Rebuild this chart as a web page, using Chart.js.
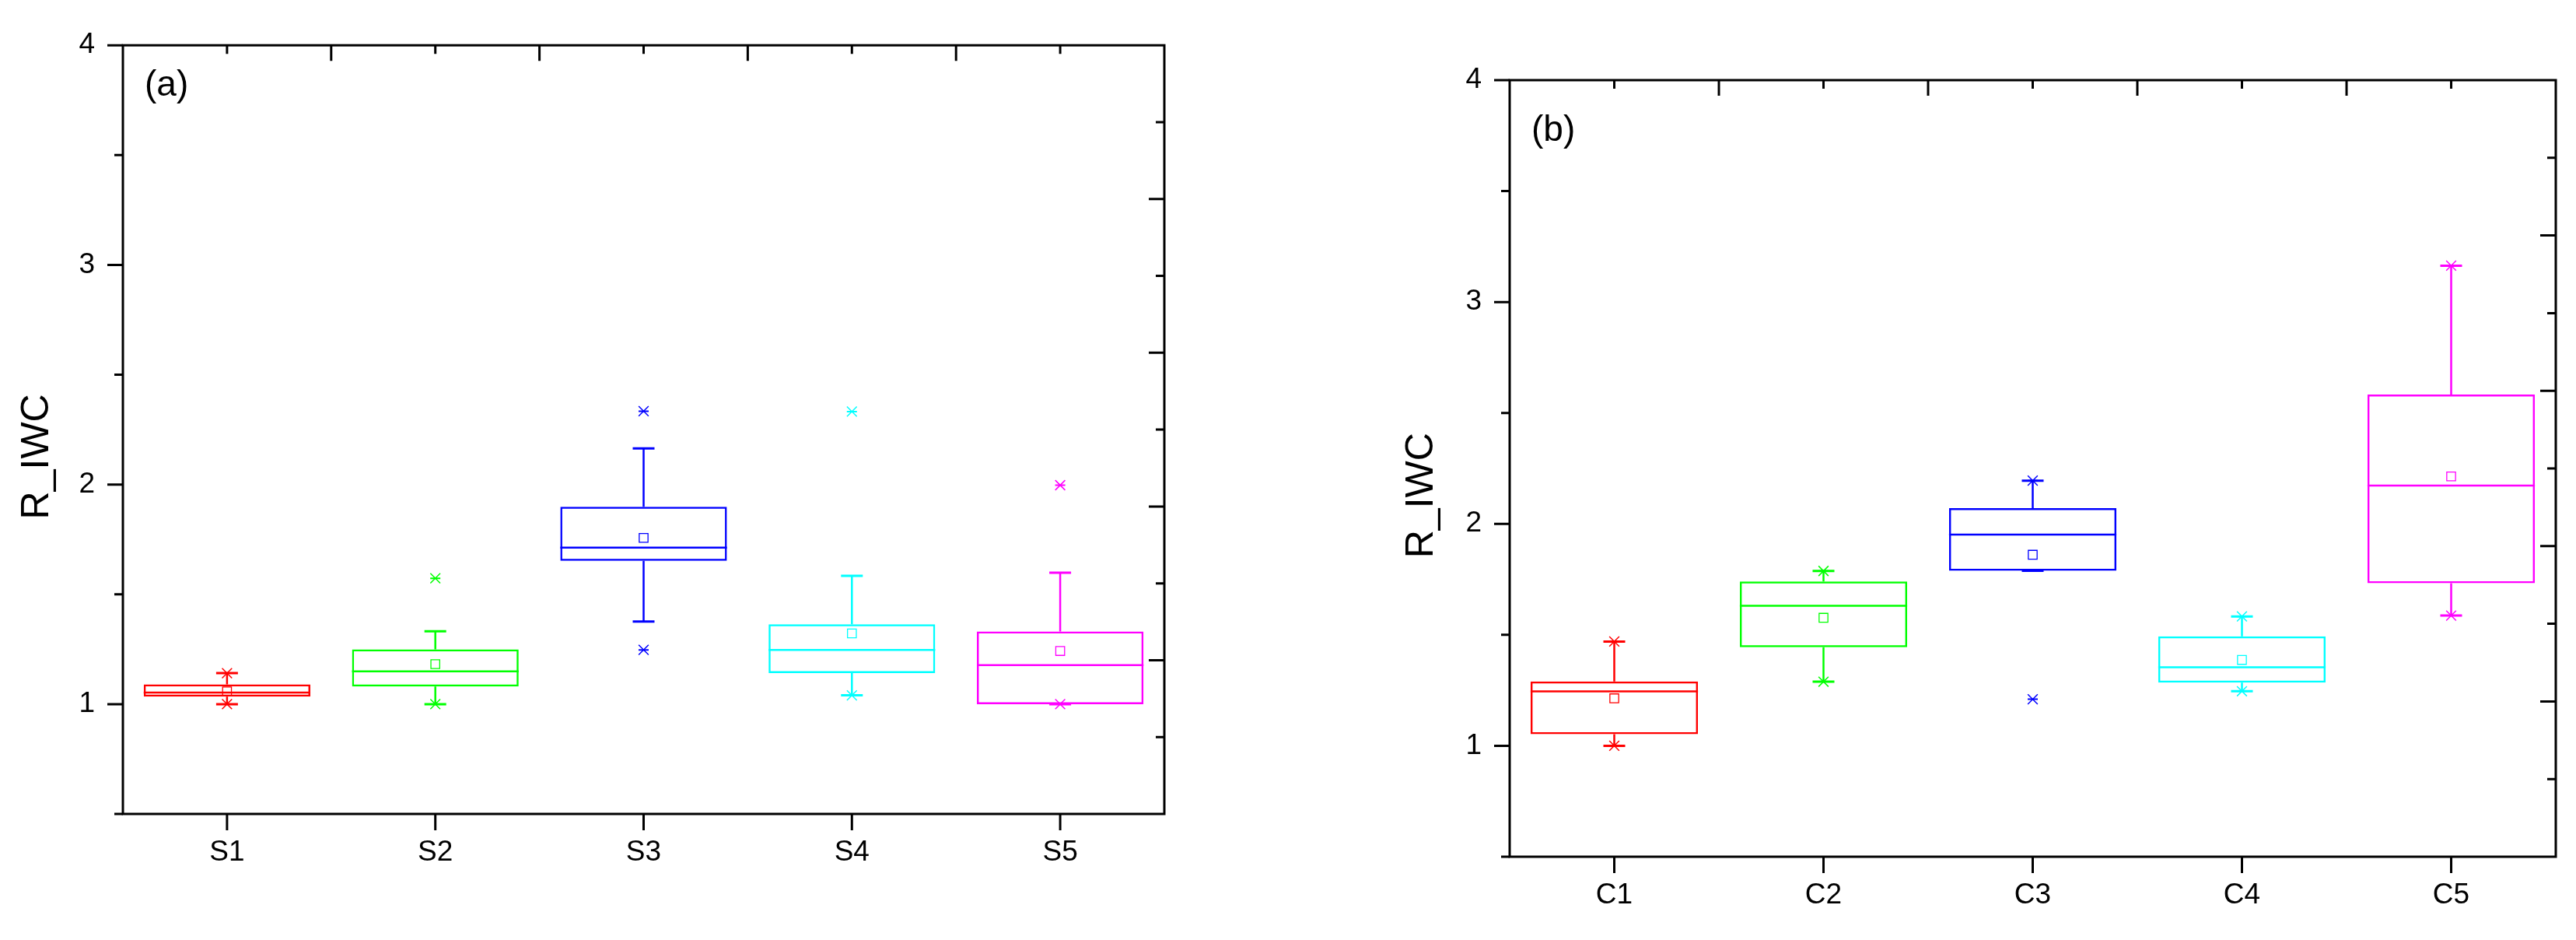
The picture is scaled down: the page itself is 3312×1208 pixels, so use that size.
<!DOCTYPE html>
<html>
<head>
<meta charset="utf-8">
<script src="https://cdn.jsdelivr.net/npm/chart.js@4/dist/chart.umd.min.js"></script>
<style>
html, body { margin: 0; padding: 0; background: #fff; }
body { width: 3312px; height: 1208px; position: relative; overflow: hidden; }
canvas { position: absolute; top: 0; }
#chartA { left: 0; }
#chartB { left: 1700px; }
</style>
</head>
<body>
<canvas id="chartA" width="1600" height="1208"></canvas>
<canvas id="chartB" width="1612" height="1208"></canvas>
<script>
const FONT = "'Liberation Sans', Arial, sans-serif";
const boxColors = ['#ff0000', '#00ff00', '#0000ff', '#00ffff', '#ff00ff'];

// panel (a)
const labelsA = ['S1', 'S2', 'S3', 'S4', 'S5'];
const q1A = [1.034, 1.080, 1.652, 1.141, 1.000];
const medianA = [1.053, 1.149, 1.713, 1.247, 1.178];
const q3A = [1.090, 1.249, 1.899, 1.364, 1.331];
const meanA = [1.058, 1.182, 1.757, 1.322, 1.242];
const lowA = [1.000, 1.000, 1.376, 1.040, 1.000];
const highA = [1.141, 1.332, 2.164, 1.584, 1.598];
const minA = [1.000, 1.000, 1.247, 1.040, 1.000];
const maxA = [1.141, 1.573, 2.334, 2.332, 1.997];

// panel (b)
const labelsB = ['C1', 'C2', 'C3', 'C4', 'C5'];
const q1B = [1.052, 1.444, 1.789, 1.285, 1.733];
const medianB = [1.245, 1.631, 1.952, 1.354, 2.173];
const q3B = [1.290, 1.741, 2.071, 1.493, 2.583];
const meanB = [1.214, 1.577, 1.861, 1.387, 2.214];
const lowB = [1.000, 1.289, 1.789, 1.246, 1.587];
const highB = [1.470, 1.788, 2.195, 1.583, 3.164];
const minB = [1.000, 1.289, 1.210, 1.246, 1.587];
const maxB = [1.470, 1.788, 2.195, 1.583, 3.164];

const yTicks = [0.5, 1, 1.5, 2, 2.5, 3, 3.5, 4];

// whiskers, medians, frame, tick marks and panel tag
const boxExtras = {
    id: 'boxExtras',
    afterDatasetsDraw(chart, args, opts) {
        const ctx = chart.ctx;
        const area = chart.chartArea;
        const x = chart.scales.x;
        const y = chart.scales.y;
        const bars = chart.getDatasetMeta(0).data;
        ctx.save();

        opts.median.forEach((m, i) => {
            const px = x.getPixelForValue(i);
            const half = bars[i].width / 2;
            ctx.strokeStyle = boxColors[i];
            ctx.lineWidth = 2.5;
            ctx.beginPath();
            ctx.moveTo(px - half, y.getPixelForValue(m));
            ctx.lineTo(px + half, y.getPixelForValue(m));
            ctx.moveTo(px, y.getPixelForValue(opts.q3[i]));
            ctx.lineTo(px, y.getPixelForValue(opts.high[i]));
            ctx.moveTo(px, y.getPixelForValue(opts.q1[i]));
            ctx.lineTo(px, y.getPixelForValue(opts.low[i]));
            ctx.stroke();
            ctx.lineWidth = 3;
            ctx.beginPath();
            [opts.high[i], opts.low[i]].forEach(v => {
                ctx.moveTo(px - 14, y.getPixelForValue(v));
                ctx.lineTo(px + 14, y.getPixelForValue(v));
            });
            ctx.stroke();
        });

        ctx.strokeStyle = '#000';
        ctx.lineWidth = 3;
        ctx.strokeRect(area.left, area.top, area.right - area.left, area.bottom - area.top);

        ctx.beginPath();
        // left, outward
        yTicks.forEach(v => {
            const py = y.getPixelForValue(v);
            const len = Number.isInteger(v) ? 20 : 11;
            ctx.moveTo(area.left - len, py);
            ctx.lineTo(area.left, py);
        });
        // right, inward, 10 divisions
        for (let k = 1; k < 10; k++) {
            const py = y.getPixelForValue(0.5 + k * 0.35);
            const len = k % 2 === 0 ? 20 : 11;
            ctx.moveTo(area.right - len, py);
            ctx.lineTo(area.right, py);
        }
        // bottom, outward at categories; top, inward
        const n = opts.median.length;
        for (let i = 0; i < n; i++) {
            const px = x.getPixelForValue(i);
            ctx.moveTo(px, area.bottom);
            ctx.lineTo(px, area.bottom + 21);
            ctx.moveTo(px, area.top);
            ctx.lineTo(px, area.top + 11);
            if (i < n - 1) {
                const bx = (px + x.getPixelForValue(i + 1)) / 2;
                ctx.moveTo(bx, area.top);
                ctx.lineTo(bx, area.top + 20);
            }
        }
        ctx.stroke();

        ctx.fillStyle = '#000';
        ctx.font = '46px ' + FONT;
        ctx.textAlign = 'left';
        ctx.textBaseline = 'middle';
        ctx.fillText(opts.tag, area.left + 28, area.top + opts.tagDy);
        ctx.restore();
    }
};

function buildChart(id, labels, q1, median, q3, mean, low, high, mins, maxs, lay) {
    return new Chart(document.getElementById(id), {
        type: 'bar',
        data: {
            labels: labels,
            datasets: [
                {
                    type: 'bar',
                    data: labels.map((l, i) => [q1[i], q3[i]]),
                    backgroundColor: 'rgba(0,0,0,0)',
                    borderColor: boxColors,
                    borderWidth: 2.5,
                    borderSkipped: false,
                    barPercentage: 0.8,
                    categoryPercentage: 1,
                    order: 3
                },
                {
                    type: 'line',
                    data: mean,
                    showLine: false,
                    pointStyle: 'rect',
                    pointRadius: 8,
                    pointBorderWidth: 1.3,
                    pointBackgroundColor: 'rgba(0,0,0,0)',
                    pointBorderColor: boxColors,
                    order: 1
                },
                {
                    type: 'line',
                    data: maxs,
                    showLine: false,
                    pointStyle: 'crossRot',
                    pointRadius: 9,
                    pointBorderWidth: 1.5,
                    pointBorderColor: boxColors,
                    order: 1
                },
                {
                    type: 'line',
                    data: mins,
                    showLine: false,
                    pointStyle: 'crossRot',
                    pointRadius: 9,
                    pointBorderWidth: 1.5,
                    pointBorderColor: boxColors,
                    order: 1
                },
                {
                    type: 'line',
                    data: maxs,
                    showLine: false,
                    pointStyle: 'line',
                    pointRadius: 6.5,
                    pointBorderWidth: 2,
                    pointBorderColor: boxColors,
                    order: 2
                },
                {
                    type: 'line',
                    data: mins,
                    showLine: false,
                    pointStyle: 'line',
                    pointRadius: 6.5,
                    pointBorderWidth: 2,
                    pointBorderColor: boxColors,
                    order: 2
                }
            ]
        },
        options: {
            responsive: false,
            devicePixelRatio: 1,
            animation: false,
            events: [],
            layout: { padding: { left: 0, right: lay.right, top: lay.top, bottom: 0 } },
            plugins: {
                legend: { display: false },
                tooltip: { enabled: false },
                boxExtras: { q1: q1, q3: q3, median: median, low: low, high: high, tag: lay.tag, tagDy: lay.tagDy }
            },
            scales: {
                x: {
                    offset: true,
                    afterFit: s => { s.height = lay.xHeight; },
                    grid: { display: false, drawTicks: false },
                    border: { display: false },
                    ticks: { padding: 28, color: '#000', font: { size: 37, family: FONT } }
                },
                y: {
                    min: 0.5,
                    max: 4,
                    afterFit: s => { s.width = lay.yWidth; },
                    grid: { display: false, drawTicks: false },
                    border: { display: false },
                    ticks: {
                        stepSize: 0.5,
                        padding: 36,
                        color: '#000',
                        font: { size: 37, family: FONT },
                        callback: v => Number.isInteger(v) ? v : ''
                    },
                    title: {
                        display: true,
                        text: 'R_IWC     ',
                        color: '#000',
                        font: { size: 50, family: FONT },
                        padding: { top: lay.titlePad, bottom: 0 }
                    }
                }
            }
        },
        plugins: [boxExtras]
    });
}

buildChart('chartA', labelsA, q1A, medianA, q3A, meanA, lowA, highA, minA, maxA,
    { right: 103, top: 49, xHeight: 162, yWidth: 158, titlePad: 18, tag: '(a)', tagDy: 52 });
buildChart('chartB', labelsB, q1B, medianB, q3B, meanB, lowB, highB, minB, maxB,
    { right: 26, top: 103, xHeight: 107, yWidth: 241, titlePad: 98, tag: '(b)', tagDy: 65 });
</script>
</body>
</html>
